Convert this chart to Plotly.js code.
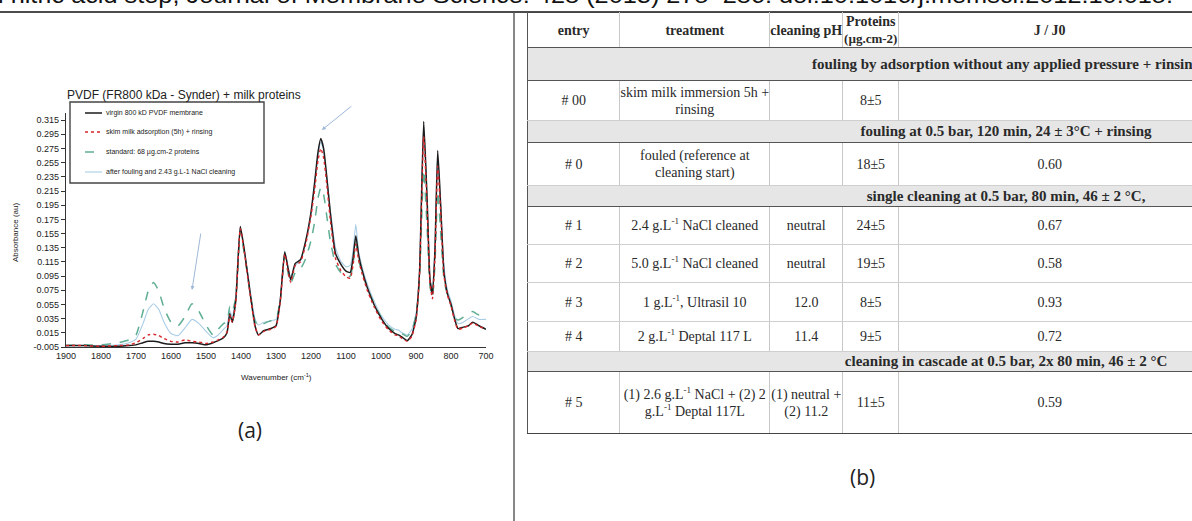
<!DOCTYPE html>
<html><head><meta charset="utf-8">
<script src="https://cdn.plot.ly/plotly-3.0.1.min.js"></script>
<style>
html,body{margin:0;padding:0;background:#fff;width:1192px;height:521px;overflow:hidden;position:relative;}
#plot{position:absolute;left:0;top:0;width:1192px;height:521px;}
#cite{position:absolute;left:-2px;white-space:nowrap;font-family:'Liberation Sans',Arial,sans-serif;color:#111;line-height:1;transform-origin:0 0;}
#tblwrap{position:absolute;left:527px;top:12px;}
table{border-collapse:collapse;table-layout:fixed;font-family:'Liberation Serif','Times New Roman',serif;font-size:14px;color:#2a2a2a;border-top:1.5px solid #444;}
td,th{text-align:center;vertical-align:middle;padding:0;line-height:17px;border-left:1px solid #c8c8c8;border-right:1px solid #c8c8c8;overflow:visible;white-space:nowrap;}
th{font-weight:bold;border-bottom:1.5px solid #555;}
th small{font-size:13px;}
tr.sec td{background:#e6e6e6;font-weight:bold;font-size:15px;border-top:1.5px solid #555;border-bottom:1.5px solid #555;text-align:center;padding-left:284px;}
tr.dat td{border-bottom:1px solid #cfcfcf;}
td:first-child,th:first-child{border-left:1.5px solid #555;}
tr.last td{border-bottom:1.5px solid #444;}
sup{font-size:9px;line-height:0;vertical-align:6px;}
</style></head>
<body>
<div id="plot"></div>
<div id="cite">l nitric acid step, Journal of Membrane Science. 428 (2013) 275–286. doi:10.1016/j.memsci.2012.10.015.</div>
<div id="tblwrap"></div>
<script>
// ---------- spectrum data ----------
const wavenumber = [1900,1850,1800,1750,1720,1700,1680,1665,1650,1635,1620,1600,1580,1560,1540,1520,1500,1480,1465,1450,1440,1432,1425,1415,1402,1390,1375,1360,1350,1335,1315,1300,1288,1275,1265,1258,1245,1230,1215,1200,1190,1180,1172,1164,1155,1145,1130,1115,1100,1088,1080,1072,1064,1055,1040,1020,1000,980,960,950,940,925,912,900,890,878,868,860,853,846,838,830,820,810,800,790,780,765,750,738,720,700];
const virginPVDF = [-0.003,-0.003,-0.004,-0.004,-0.003,-0.002,0.001,0.003,0.003,0.002,0.000,-0.001,-0.001,0.001,0.001,0.000,-0.002,0.001,0.004,0.008,0.015,0.042,0.03,0.06,0.165,0.13,0.075,0.025,0.012,0.018,0.021,0.025,0.06,0.129,0.105,0.09,0.113,0.118,0.145,0.185,0.225,0.27,0.289,0.275,0.235,0.185,0.127,0.112,0.102,0.1,0.12,0.152,0.125,0.105,0.08,0.055,0.036,0.022,0.014,0.012,0.009,0.004,0.012,0.035,0.1,0.313,0.2,0.09,0.07,0.13,0.272,0.2,0.1,0.07,0.055,0.035,0.021,0.023,0.025,0.03,0.025,0.02];
const skimMilkAdsorption = [-0.003,-0.003,-0.004,-0.003,-0.002,0.001,0.007,0.012,0.013,0.011,0.007,0.003,0.002,0.005,0.003,0.002,0.000,0.002,0.005,0.009,0.016,0.04,0.03,0.058,0.162,0.127,0.073,0.024,0.012,0.017,0.02,0.024,0.058,0.126,0.1,0.086,0.11,0.115,0.14,0.18,0.215,0.258,0.275,0.262,0.225,0.175,0.12,0.103,0.094,0.092,0.11,0.14,0.118,0.1,0.076,0.052,0.033,0.02,0.012,0.011,0.007,0.003,0.01,0.033,0.095,0.292,0.19,0.085,0.063,0.12,0.25,0.19,0.095,0.068,0.053,0.033,0.02,0.022,0.025,0.029,0.024,0.02];
const standard68 = [-0.003,-0.002,-0.002,0.001,0.005,0.012,0.045,0.074,0.086,0.074,0.05,0.03,0.025,0.038,0.056,0.045,0.026,0.012,0.02,0.028,0.03,0.052,0.045,0.065,0.158,0.125,0.075,0.032,0.024,0.028,0.032,0.035,0.06,0.124,0.098,0.085,0.1,0.105,0.12,0.145,0.17,0.205,0.22,0.21,0.18,0.145,0.112,0.1,0.094,0.095,0.112,0.143,0.118,0.102,0.08,0.056,0.037,0.024,0.017,0.017,0.014,0.01,0.018,0.04,0.09,0.245,0.16,0.08,0.065,0.11,0.215,0.16,0.09,0.068,0.055,0.036,0.033,0.037,0.042,0.045,0.04,0.042];
const afterNaClCleaning = [-0.003,-0.003,-0.003,-0.002,0.001,0.006,0.028,0.048,0.056,0.048,0.03,0.014,0.011,0.022,0.034,0.028,0.017,0.008,0.012,0.02,0.025,0.046,0.038,0.062,0.162,0.13,0.08,0.035,0.026,0.03,0.032,0.034,0.062,0.13,0.105,0.092,0.11,0.117,0.143,0.183,0.222,0.265,0.284,0.272,0.235,0.19,0.135,0.116,0.108,0.11,0.13,0.168,0.13,0.11,0.085,0.06,0.04,0.027,0.02,0.019,0.015,0.012,0.02,0.042,0.1,0.31,0.2,0.09,0.075,0.13,0.265,0.2,0.11,0.075,0.06,0.04,0.028,0.03,0.035,0.038,0.034,0.034];
const seriesNames = ['virgin 800 kD PVDF membrane','skim milk adsorption (5h) + rinsing','standard: 68 µg.cm-2 proteins','after fouling and 2.43 g.L-1 NaCl cleaning'];
const xTicks = [1900,1800,1700,1600,1500,1400,1300,1200,1100,1000,900,800,700];
const yTicks = [-0.005,0.015,0.035,0.055,0.075,0.095,0.115,0.135,0.155,0.175,0.195,0.215,0.235,0.255,0.275,0.295,0.315];
const yTickLabels = ['-0.005','0.015','0.035','0.055','0.075','0.095','0.115','0.135','0.155','0.175','0.195','0.215','0.235','0.255','0.275','0.295','0.315'];

// ---------- table data ----------
const headers = ['entry','treatment','cleaning pH','Proteins<br><small>(µg.cm-2)</small>','J / J0'];
const sections = ['fouling by adsorption without any applied pressure + rinsing','fouling at 0.5 bar, 120 min, 24 ± 3°C + rinsing','single cleaning at 0.5 bar, 80 min, 46 ± 2 °C,','cleaning in cascade at 0.5 bar, 2x 80 min, 46 ± 2 °C'];
const sectionEntries = [[0],[1],[2,3,4,5],[6]];
const entries = ['# 00','# 0','# 1','# 2','# 3','# 4','# 5'];
const treatments = ['skim milk immersion 5h +<br>rinsing','fouled (reference at<br>cleaning start)','2.4 g.L<sup>-1</sup> NaCl cleaned','5.0 g.L<sup>-1</sup> NaCl cleaned','1 g.L<sup>-1</sup>, Ultrasil 10','2 g.L<sup>-1</sup> Deptal 117 L','(1) 2.6 g.L<sup>-1</sup> NaCl + (2) 2<br>g.L<sup>-1</sup> Deptal 117L'];
const cleaningPH = ['','','neutral','neutral','12.0','11.4','(1) neutral +<br>(2) 11.2'];
const proteins = ['8±5','18±5','24±5','19±5','8±5','9±5','11±5'];
const jOverJ0 = ['','0.60','0.67','0.58','0.93','0.72','0.59'];

// ---------- build table ----------
const colW = [93,150,72,56,305];
const headerH = 33;
const sectionH = [33,22,21,20];
const rowH = [40,43,38,38,39,30,62];
let h = '<table><colgroup>' + colW.map(w=>'<col style="width:'+w+'px">').join('') + '</colgroup>';
h += '<tr style="height:'+headerH+'px">' + headers.map(t=>'<th>'+t+'</th>').join('') + '</tr>';
sections.forEach((s,si)=>{
  h += '<tr class="sec" style="height:'+sectionH[si]+'px"><td colspan="5">'+s+'</td></tr>';
  sectionEntries[si].forEach((r,k)=>{
    const last = (si===sections.length-1 && k===sectionEntries[si].length-1);
    h += '<tr class="dat'+(last?' last':'')+'" style="height:'+rowH[r]+'px"><td>'+entries[r]+'</td><td>'+treatments[r]+'</td><td>'+cleaningPH[r]+'</td><td>'+proteins[r]+'</td><td>'+jOverJ0[r]+'</td></tr>';
  });
});
h += '</table>';
document.getElementById('tblwrap').innerHTML = h;

// ---------- citation line fitted ----------
(function(){
  const c = document.getElementById('cite');
  const F = 22; c.style.fontSize = F+'px';
  const w = c.getBoundingClientRect().width;
  c.style.transform = 'scaleX('+(1175 / w)+')';
  c.style.top = (4 - 0.8465*F) + 'px';
})();

// ---------- plot ----------
const W = 1192, H = 521;
const px = v => v / W, py = v => 1 - v / H;
const colors = ['#1c1c1c','#d8262a','#5fae94','#a9cde6'];
const dashes = ['solid','dot','dash','solid'];
const widths = [1.5,1.4,1.5,1.1];
const ys = [virginPVDF, skimMilkAdsorption, standard68, afterNaClCleaning];
const order = [3,2,0,1];
const traces = order.map(i=>({
  type:'scatter', mode:'lines', x: wavenumber, y: ys[i], name: seriesNames[i],
  line:{color:colors[i], dash:dashes[i], width:widths[i], shape:'spline', smoothing:0.5},
  hoverinfo:'skip'
}));

const shapes = [
  {type:'line', xref:'paper', yref:'paper', x0:0, x1:1, y0:py(12), y1:py(12), line:{color:'#111', width:1.6}},
  {type:'line', xref:'paper', yref:'paper', x0:px(514), x1:px(514), y0:py(12), y1:0, line:{color:'#555', width:1.4}},
  {type:'rect', xref:'paper', yref:'paper', x0:px(70), x1:px(264), y0:py(102), y1:py(183), line:{color:'#444', width:1.4}, fillcolor:'rgba(255,255,255,0)'}
];
const annotations = [
  {xref:'paper', yref:'paper', x:px(184), y:py(95), xanchor:'center', yanchor:'middle', text:'PVDF (FR800 kDa - Synder) + milk proteins', showarrow:false, font:{family:'Liberation Sans', size:12, color:'#222'}},
  {xref:'paper', yref:'paper', x:px(250), y:py(430), xanchor:'center', yanchor:'middle', text:'(a)', showarrow:false, font:{family:'Open Sans', size:21, color:'#222'}},
  {xref:'paper', yref:'paper', x:px(862), y:py(477), xanchor:'center', yanchor:'middle', text:'(b)', showarrow:false, font:{family:'Open Sans', size:21, color:'#222'}},
  {xref:'paper', yref:'paper', x:px(276), y:py(377), xanchor:'center', yanchor:'middle', text:'Wavenumber (cm<sup>-1</sup>)', showarrow:false, font:{family:'Liberation Sans', size:8, color:'#222'}},
  {xref:'paper', yref:'paper', x:px(15), y:py(233), xanchor:'center', yanchor:'middle', textangle:-90, text:'Absorbance (au)', showarrow:false, font:{family:'Liberation Sans', size:8, color:'#222'}},
  {x:1169, y:0.301, ax:31, ay:-25, text:'', showarrow:true, arrowcolor:'#9fb8d8', arrowwidth:1, arrowhead:2, arrowsize:0.8},
  {x:1540, y:0.0754, ax:9, ay:-58, text:'', showarrow:true, arrowcolor:'#9fb8d8', arrowwidth:1, arrowhead:2, arrowsize:0.8}
];
const legY = [113,132,152,172];
[0,1,2,3].forEach(i=>{
  shapes.push({type:'line', xref:'paper', yref:'paper', x0:px(85), x1:px(102), y0:py(legY[i]), y1:py(legY[i]), line:{color:colors[i], dash:dashes[i], width:widths[i]}});
  annotations.push({xref:'paper', yref:'paper', x:px(104), y:py(legY[i]), xanchor:'left', yanchor:'middle', text:seriesNames[i], showarrow:false, font:{family:'Liberation Sans', size:7, color:'#222'}});
});

const layout = {
  width:W, height:H, margin:{l:0,r:0,t:0,b:0}, paper_bgcolor:'#fff', plot_bgcolor:'#fff', showlegend:false,
  xaxis:{domain:[px(66), px(486)], range:[1900,700], tickmode:'array', tickvals:xTicks, ticks:'', showline:true, linecolor:'#333', linewidth:1.2,
    zeroline:false, showgrid:false, tickfont:{family:'Liberation Sans', size:9, color:'#222'}, fixedrange:true},
  yaxis:{domain:[1-347/H, 1-113/H], range:[-0.005,0.325], tickmode:'array', tickvals:yTicks, ticktext:yTickLabels, ticks:'outside', ticklen:4, tickcolor:'#333',
    showline:true, linecolor:'#333', linewidth:1.2, zeroline:false, showgrid:false, tickfont:{family:'Liberation Sans', size:9, color:'#222'}, fixedrange:true},
  shapes, annotations
};
Plotly.newPlot('plot', traces, layout, {staticPlot:true, displayModeBar:false});
</script>
</body></html>
